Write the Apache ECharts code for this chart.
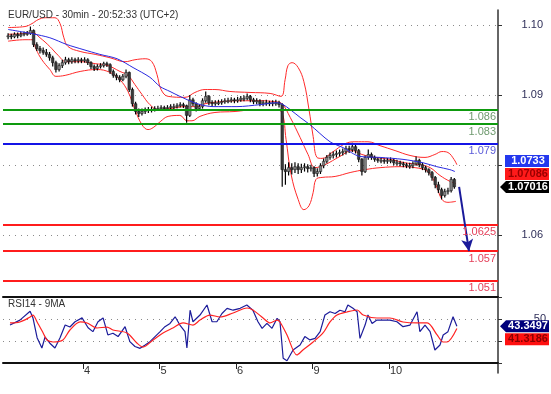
<!DOCTYPE html>
<html><head><meta charset="utf-8">
<script src="https://cdn.jsdelivr.net/npm/echarts@6/dist/echarts.min.js"></script>
<style>html,body{margin:0;padding:0;background:#fff}#c{width:551px;height:394px}</style>
</head><body><div id="c"></div>
<script>
// ---- Hourly bars (bar index 0 = day 3, 00:00) ----
const firstOpen = 1.1009;
const closes = [
1.1011,1.1009,1.1014,1.1011,1.1014,1.1016,1.1016,1.1022,1.0993,1.0985,1.0981,1.0977,1.0973,1.0966,1.0956,1.0942,1.0950,1.0956,1.0962,1.0958,1.0962,1.0960,1.0962,1.0960,
1.0962,1.0956,1.0948,1.0944,1.0948,1.0950,1.0954,1.0952,1.0938,1.0930,1.0926,1.0921,1.0928,1.0936,1.0901,1.0872,1.0856,1.0852,1.0856,1.0858,1.0860,1.0860,1.0862,1.0862,
1.0864,1.0862,1.0864,1.0866,1.0866,1.0868,1.0870,1.0868,1.0848,1.0880,1.0872,1.0862,1.0866,1.0878,1.0887,1.0874,1.0872,1.0874,1.0874,1.0876,1.0878,1.0878,1.0880,1.0878,
1.0880,1.0883,1.0883,1.0887,1.0880,1.0876,1.0878,1.0872,1.0874,1.0874,1.0872,1.0874,1.0874,1.0870,1.0737,1.0733,1.0741,1.0737,1.0743,1.0737,1.0741,1.0743,1.0739,1.0741,
1.0729,1.0733,1.0745,1.0754,1.0762,1.0766,1.0768,1.0770,1.0772,1.0774,1.0780,1.0778,1.0784,1.0776,1.0758,1.0733,1.0762,1.0768,1.0762,1.0758,1.0756,1.0756,1.0754,1.0756,
1.0756,1.0751,1.0751,1.0749,1.0747,1.0745,1.0745,1.0749,1.0756,1.0747,1.0741,1.0737,1.0731,1.0721,1.0706,1.0696,1.0684,1.0692,1.0694,1.0717,1.07016];
const highs = [
1.1016,1.1015,1.1018,1.1018,1.1019,1.1020,1.1021,1.1030,1.1024,1.0998,1.0990,1.0987,1.0984,1.0978,1.0970,1.0960,1.0955,1.0962,1.0968,1.0966,1.0967,1.0966,1.0967,1.0966,
1.0967,1.0965,1.0959,1.0952,1.0953,1.0955,1.0958,1.0958,1.0955,1.0942,1.0934,1.0930,1.0933,1.0942,1.0938,1.0905,1.0876,1.0862,1.0862,1.0864,1.0865,1.0866,1.0867,1.0868,
1.0869,1.0868,1.0869,1.0871,1.0872,1.0873,1.0875,1.0874,1.0870,1.0890,1.0884,1.0875,1.0871,1.0883,1.0897,1.0890,1.0879,1.0879,1.0880,1.0881,1.0883,1.0884,1.0885,1.0884,
1.0886,1.0888,1.0889,1.0893,1.0890,1.0884,1.0883,1.0881,1.0879,1.0880,1.0878,1.0879,1.0880,1.0878,1.0873,1.0748,1.0752,1.0750,1.0752,1.0750,1.0749,1.0750,1.0748,1.0747,
1.0744,1.0740,1.0750,1.0760,1.0767,1.0772,1.0774,1.0776,1.0778,1.0780,1.0786,1.0786,1.0792,1.0788,1.0779,1.0761,1.0766,1.0778,1.0772,1.0766,1.0762,1.0761,1.0760,1.0761,
1.0762,1.0760,1.0757,1.0755,1.0753,1.0751,1.0751,1.0754,1.0764,1.0759,1.0751,1.0745,1.0740,1.0734,1.0724,1.0712,1.0700,1.0698,1.0700,1.0722,1.0720];
const lows = [
1.1004,1.1004,1.1006,1.1006,1.1008,1.1010,1.1011,1.1013,1.0988,1.0980,1.0975,1.0972,1.0968,1.0960,1.0948,1.0936,1.0938,1.0945,1.0952,1.0953,1.0954,1.0955,1.0955,1.0955,
1.0956,1.0951,1.0943,1.0939,1.0940,1.0944,1.0946,1.0947,1.0933,1.0925,1.0920,1.0916,1.0918,1.0924,1.0896,1.0866,1.0850,1.0845,1.0848,1.0851,1.0853,1.0854,1.0856,1.0857,
1.0858,1.0857,1.0858,1.0860,1.0861,1.0862,1.0864,1.0863,1.0833,1.0845,1.0867,1.0856,1.0857,1.0862,1.0874,1.0869,1.0867,1.0868,1.0869,1.0870,1.0872,1.0873,1.0874,1.0873,
1.0874,1.0876,1.0877,1.0879,1.0875,1.0871,1.0871,1.0867,1.0867,1.0868,1.0867,1.0867,1.0868,1.0864,1.0702,1.0706,1.0725,1.0727,1.0730,1.0728,1.0730,1.0733,1.0731,1.0733,
1.0722,1.0723,1.0728,1.0740,1.0750,1.0757,1.0760,1.0762,1.0764,1.0766,1.0768,1.0771,1.0773,1.0770,1.0752,1.0725,1.0730,1.0757,1.0757,1.0753,1.0751,1.0750,1.0749,1.0749,
1.0750,1.0746,1.0745,1.0744,1.0742,1.0740,1.0739,1.0740,1.0745,1.0742,1.0736,1.0731,1.0725,1.0714,1.0699,1.0689,1.0676,1.0680,1.0686,1.0690,1.0698];

// ---- Indicator lines: [bar index, value] ----
const maBlue = [[0.5,1.1024],[8.3,1.1015],[13.6,1.1007],[19.0,1.0993],[24.0,1.0983],[29.3,1.0973],[34.7,1.0964],[39.7,1.0946],[45.0,1.0926],[48.2,1.0907],[51.3,1.0897],[54.4,1.0887],[59.8,1.0872],[64.8,1.0866],[72.3,1.0866],[79.5,1.0870],[84.9,1.0874],[86.8,1.0870],[89.0,1.0860],[92.1,1.0844],[95.2,1.0829],[101.5,1.0794],[105.6,1.0782],[110.9,1.0764],[117.2,1.0762],[124.4,1.0758],[130.7,1.0751],[135.0,1.0743],[139.1,1.0737],[140.7,1.0733]];
const bbUpper = [[0.5,1.1028],[5.8,1.1030],[8.0,1.1036],[9.9,1.1044],[12.1,1.1048],[15.2,1.1048],[16.8,1.1036],[18.0,1.1007],[19.3,1.0989],[23.1,1.0979],[27.8,1.0973],[32.5,1.0966],[37.2,1.0958],[40.3,1.0962],[43.5,1.0964],[45.6,1.0958],[47.2,1.0932],[48.5,1.0901],[50.7,1.0887],[56.0,1.0885],[59.1,1.0895],[62.3,1.0901],[65.4,1.0901],[70.1,1.0897],[76.4,1.0895],[82.7,1.0893],[86.1,1.0887],[87.4,1.0921],[88.3,1.0950],[89.6,1.0956],[91.5,1.0946],[93.3,1.0917],[94.9,1.0860],[96.2,1.0805],[97.4,1.0762],[99.0,1.0760],[102.1,1.0772],[106.2,1.0790],[109.3,1.0794],[113.4,1.0794],[117.2,1.0786],[121.9,1.0776],[126.6,1.0766],[131.3,1.0762],[134.4,1.0768],[136.6,1.0774],[138.5,1.0772],[140.4,1.0758],[141.3,1.0747]];
const bbMiddle = [[0.5,1.1014],[5.8,1.1016],[8.0,1.1018],[10.5,1.1007],[13.6,1.0989],[16.2,1.0971],[18.7,1.0958],[23.1,1.0958],[27.8,1.0954],[31.8,1.0950],[35.6,1.0938],[38.1,1.0930],[40.3,1.0911],[42.5,1.0891],[45.0,1.0870],[47.5,1.0860],[51.3,1.0862],[56.0,1.0866],[59.1,1.0866],[62.3,1.0872],[67.0,1.0876],[73.3,1.0878],[79.5,1.0878],[84.2,1.0876],[86.4,1.0872],[89.0,1.0844],[92.1,1.0803],[94.6,1.0768],[96.8,1.0741],[99.9,1.0747],[104.6,1.0764],[108.4,1.0776],[111.5,1.0768],[115.6,1.0762],[120.3,1.0758],[125.0,1.0751],[129.7,1.0747],[132.9,1.0741],[136.0,1.0725],[139.1,1.0713],[141.0,1.07086]];
const bbLower = [[0.5,1.1000],[5.8,1.1003],[8.0,1.1003],[9.3,1.0983],[11.1,1.0962],[13.6,1.0942],[15.5,1.0928],[18.4,1.0930],[23.1,1.0938],[28.4,1.0942],[32.5,1.0936],[35.6,1.0921],[38.1,1.0897],[40.3,1.0860],[42.5,1.0829],[44.4,1.0819],[46.0,1.0823],[48.2,1.0835],[50.7,1.0846],[54.4,1.0848],[56.6,1.0837],[58.2,1.0837],[60.7,1.0846],[65.4,1.0854],[71.7,1.0856],[78.0,1.0860],[84.2,1.0860],[86.4,1.0854],[87.7,1.0799],[89.3,1.0727],[91.5,1.0676],[93.3,1.0655],[94.9,1.0663],[96.2,1.0690],[97.1,1.0717],[99.0,1.0721],[103.1,1.0723],[107.8,1.0731],[112.5,1.0737],[117.2,1.0741],[123.5,1.0743],[128.2,1.0741],[132.2,1.0733],[134.7,1.0706],[136.6,1.0676],[138.5,1.0670],[141.0,1.0672]];
const rsi = [[1.1,44.5],[4.2,49],[7.4,57],[8.3,51],[9.6,33],[11.1,23.6],[12.1,33.6],[13.6,28],[15.2,23.6],[16.8,33],[18.4,44.5],[19.9,42.7],[21.5,47.5],[23.7,51],[25.6,42],[27.1,38.5],[28.7,47.5],[30.3,51],[31.8,35.5],[33.4,37],[35.0,34],[37.2,43],[38.7,29.4],[40.3,25],[41.9,23.3],[43.5,26.4],[45.0,29.4],[46.6,34],[48.2,38.5],[49.7,43],[51.3,46],[52.9,52],[54.4,44.5],[56.0,38.5],[56.6,23.6],[57.6,58],[58.5,47.5],[60.7,53.6],[62.9,62.7],[64.5,47.5],[66.0,47.5],[67.6,55],[69.2,59.7],[71.1,58],[73.3,59.7],[75.4,62.7],[77.3,58],[78.9,47.5],[80.2,41.5],[81.7,46],[83.3,41.5],[84.9,50.6],[85.8,47.5],[86.8,14.3],[88.0,12],[89.9,21.8],[92.1,26.4],[93.6,34],[95.2,31],[96.8,32.4],[98.4,38.5],[99.9,53.6],[101.5,56.6],[103.1,55],[104.6,58],[106.2,56.6],[107.1,62.7],[108.7,59.7],[110.0,56.6],[110.9,32.4],[112.5,44.5],[113.4,53.6],[114.7,46],[116.2,49],[118.1,49],[120.3,49],[122.5,47.5],[124.4,43],[126.6,44.5],[128.8,56.6],[129.7,38.5],[131.3,44.5],[132.9,38.5],[134.4,21.8],[136.0,26.4],[137.0,35.5],[138.5,38.5],[140.1,52],[141.3,43.3497]];
const rsiMa = [[1.1,46.4],[4.2,47.3],[7.4,51.8],[8.3,53.6],[9.6,47.3],[11.5,37.3],[12.7,30.9],[14.6,29.1],[17.7,30.9],[19.9,40],[23.1,47.3],[25.3,46.4],[28.4,41.8],[31.5,42.7],[33.4,40],[37.8,37.3],[40.9,28.2],[42.8,24.5],[46.0,30.9],[49.1,37.3],[52.2,41.8],[55.4,46.4],[58.5,44.5],[60.7,49],[63.8,53.6],[67.0,51.8],[71.1,55.5],[75.5,60],[77.3,58.2],[80.5,50.9],[82.7,46.4],[84.9,49],[85.8,47.3],[88.0,35.5],[91.1,17.3],[93.0,21.8],[96.2,29.1],[99.3,37.3],[101.5,47.3],[103.7,53.6],[106.8,56.4],[110.0,58.2],[111.9,53.6],[116.2,50.9],[120.3,50.9],[124.4,47.3],[128.8,46.4],[132.0,46.4],[135.1,35.5],[137.0,29.1],[138.2,29.1],[141.3,41.3186]];

// ---- Levels, arrow, axes ----
const levels = [1.086, 1.083, 1.079, 1.0625, 1.057, 1.051];
const levelKinds = ['support', 'support', 'pivot', 'target', 'target', 'target'];
const arrowFrom = [142.0, 1.07016];
const arrowTo = [145.1, 1.057];
const dayStarts = [24, 48, 72, 96, 120];
const dayLabels = ['4', '5', '6', '9', '10'];
const priceTickLabels = ['1.06', '', '1.09', '1.10'];
const rsiTickValues = [30, 50];

const FONT = '"Liberation Sans", Arial, sans-serif';
const kindStyle = {
  support: {line: '#0e9a0e', text: '#6f9a6f', width: 2},
  pivot:   {line: '#1414e6', text: '#5a5ad8', width: 2},
  target:  {line: '#ff1c1c', text: '#e4405a', width: 2}
};

const candleData = closes.map((c, i) => [i + 0.5, i === 0 ? firstOpen : closes[i - 1], c, lows[i], highs[i]]);

function renderCandle(params, api) {
  const x = api.value(0), o = api.value(1), c = api.value(2), l = api.value(3), h = api.value(4);
  const pH = api.coord([x, h]), pL = api.coord([x, l]), pO = api.coord([x, o]), pC = api.coord([x, c]);
  const w = 2.6;
  const top = Math.min(pO[1], pC[1]), bot = Math.max(pO[1], pC[1]);
  return {type: 'group', children: [
    {type: 'line', shape: {x1: pH[0], y1: pH[1], x2: pL[0], y2: pL[1]}, style: {stroke: '#000', lineWidth: 1.2}},
    {type: 'rect', shape: {x: pO[0] - w / 2, y: top, width: w, height: Math.max(bot - top, 1)},
     style: {fill: c >= o ? '#858585' : '#3a3a3a', stroke: '#111', lineWidth: 0.5}}
  ]};
}

const XMIN = -1.1, XMAX = 154.2;
const dotted = {type: [1, 5], color: '#8a8a8a', width: 1};

const option = {
  animation: false,
  backgroundColor: '#ffffff',
  title: [
    {text: 'EUR/USD - 30min - 20:52:33 (UTC+2)', left: 8, top: 10, padding: 0, textStyle: {fontSize: 10, fontWeight: 'normal', color: '#333', fontFamily: FONT}},
    {text: 'RSI14 - 9MA', left: 8, top: 299, padding: 0, textStyle: {fontSize: 10, fontWeight: 'normal', color: '#333', fontFamily: FONT}}
  ],
  grid: [
    {left: 3, right: 53, top: 7, height: 293},
    {left: 3, right: 53, top: 25, height: 210},
    {left: 3, right: 53, top: 297, height: 66},
    {left: 3, right: 53, top: 10, bottom: 21}
  ],
  xAxis: [
    {type: 'value', gridIndex: 0, min: XMIN, max: XMAX, show: false},
    {type: 'value', gridIndex: 1, min: 0, max: 1, show: false},
    {type: 'value', gridIndex: 2, min: XMIN, max: XMAX, position: 'bottom',
     axisLine: {show: true, onZero: false, lineStyle: {color: '#111', width: 2}},
     axisTick: {show: true, customValues: dayStarts, length: 6, lineStyle: {color: '#222'}},
     axisLabel: {customValues: dayStarts, formatter: v => dayLabels[dayStarts.indexOf(v)], align: 'left', padding: [0, 0, 0, 1], margin: 2, fontSize: 11, color: '#333', fontFamily: FONT},
     splitLine: {show: false}},
    {type: 'value', gridIndex: 2, min: XMIN, max: XMAX, position: 'top',
     axisLine: {show: true, onZero: false, lineStyle: {color: '#111', width: 2}},
     axisTick: {show: false}, axisLabel: {show: false}, splitLine: {show: false}},
    {type: 'value', gridIndex: 3, min: 0, max: 1, show: false}
  ],
  yAxis: [
    {type: 'value', gridIndex: 0, min: 1.047, max: 1.107, show: false},
    {type: 'value', gridIndex: 1, min: 0, max: 3, interval: 1, position: 'right',
     axisLine: {show: false, onZero: false}, axisTick: {show: true, length: 4, lineStyle: {color: '#333'}},
     axisLabel: {formatter: v => priceTickLabels[Math.round(v)], align: 'right', margin: 45, fontSize: 11, color: '#2e2e58', fontFamily: FONT},
     splitLine: {show: true, lineStyle: dotted}},
    {type: 'value', gridIndex: 2, min: 10, max: 70, interval: 20, position: 'right',
     axisLine: {show: false, onZero: false}, axisTick: {show: true, length: 4, lineStyle: {color: '#333'}},
     axisLabel: {formatter: v => rsiTickValues.includes(v) ? String(v) : '', align: 'right', margin: 48, fontSize: 11, color: '#2e2e58', fontFamily: FONT},
     splitLine: {show: true, lineStyle: dotted}},
    {type: 'value', gridIndex: 3, min: 0, max: 1, position: 'right',
     axisLine: {show: true, onZero: false, lineStyle: {color: '#333', width: 1.5}}, axisTick: {show: false}, axisLabel: {show: false}, splitLine: {show: false}}
  ],
  series: [
    {type: 'line', name: 'BB upper', xAxisIndex: 0, yAxisIndex: 0, data: bbUpper, smooth: 0.4, showSymbol: false, lineStyle: {color: '#ff2a2a', width: 1}, z: 2},
    {type: 'line', name: 'BB lower', xAxisIndex: 0, yAxisIndex: 0, data: bbLower, smooth: 0.4, showSymbol: false, lineStyle: {color: '#ff2a2a', width: 1}, z: 2},
    {type: 'line', name: 'BB middle', xAxisIndex: 0, yAxisIndex: 0, data: bbMiddle, smooth: 0.4, showSymbol: false, lineStyle: {color: '#ff2a2a', width: 1}, z: 2},
    {type: 'custom', name: 'EUR/USD', xAxisIndex: 0, yAxisIndex: 0, renderItem: renderCandle, encode: {x: 0, y: [1, 2, 3, 4]}, data: candleData, z: 3},
    {type: 'line', name: 'MA', xAxisIndex: 0, yAxisIndex: 0, data: maBlue, smooth: 0.3, showSymbol: false, lineStyle: {color: '#2a2ae0', width: 1}, z: 4,
     markLine: {silent: true, symbol: 'none', animation: false, precision: 5,
       data: levels.map((v, i) => {
         const s = kindStyle[levelKinds[i]];
         return {yAxis: v, lineStyle: {color: s.line, width: s.width, type: 'solid'},
           label: {show: true, position: 'insideEndBottom', formatter: String(v), color: s.text, fontSize: 11, fontFamily: FONT, distance: [2, 2]}};
       })}},
    {type: 'line', name: 'arrow', xAxisIndex: 0, yAxisIndex: 0, data: [], z: 6,
     markLine: {silent: true, animation: false, precision: 5, symbol: ['none', 'arrow'], symbolSize: [9, 12],
       lineStyle: {color: '#1a1a9a', width: 2, type: 'solid'}, label: {show: false},
       data: [[{coord: arrowFrom}, {coord: arrowTo}]]}},
    {type: 'line', name: 'RSI14', xAxisIndex: 2, yAxisIndex: 2, data: rsi, showSymbol: false, lineStyle: {color: '#1c1c9a', width: 1.2}, z: 3},
    {type: 'line', name: '9MA', xAxisIndex: 2, yAxisIndex: 2, data: rsiMa, smooth: 0.3, showSymbol: false, lineStyle: {color: '#ff2222', width: 1.2}, z: 4}
  ]
};

const chart = echarts.init(document.getElementById('c'), null, {renderer: 'canvas'});
chart.setOption(option);

// value tags on the right scale, stacked away from the primary (arrow) tag
const lastClose = closes[closes.length - 1];
const lastMid = bbMiddle[bbMiddle.length - 1][1];
const lastMa = maBlue[maBlue.length - 1][1];
const lastRsi = rsi[rsi.length - 1][1];
const lastRsiMa = rsiMa[rsiMa.length - 1][1];
const GAP = 13;
const yClose = chart.convertToPixel({yAxisIndex: 0}, lastClose);
const yMid = Math.min(chart.convertToPixel({yAxisIndex: 0}, lastMid), yClose - GAP);
const yMa = Math.min(chart.convertToPixel({yAxisIndex: 0}, lastMa), yMid - GAP);
const yRsi = chart.convertToPixel({yAxisIndex: 2}, lastRsi);
const yRsiMa = Math.max(chart.convertToPixel({yAxisIndex: 2}, lastRsiMa), yRsi + GAP);

function tag(y, text, bg, fg, arrow) {
  const x0 = 506, x1 = 549, h = 12;
  const box = arrow
    ? {type: 'polygon', shape: {points: [[500, y], [x0, y - h / 2], [x1, y - h / 2], [x1, y + h / 2], [x0, y + h / 2]]}, style: {fill: bg}, z: 100}
    : {type: 'rect', shape: {x: x0 - 1, y: y - h / 2, width: x1 - x0 + 1, height: h}, style: {fill: bg}, z: 100};
  return [box, {type: 'text', x: (x0 + x1) / 2 + 0.5, y: y, z: 101,
    style: {text: text, fill: fg, font: 'bold 11px ' + FONT, align: 'center', verticalAlign: 'middle', textAlign: 'center', textVerticalAlign: 'middle'}}];
}
chart.setOption({graphic: [].concat(
  tag(yMa, String(lastMa), '#2438ee', '#ffffff', false),
  tag(yMid, String(lastMid), '#ff1a1a', '#9a0000', false),
  tag(yClose, String(lastClose), '#000000', '#ffffff', true),
  tag(yRsi, String(lastRsi), '#00007a', '#ffffff', true),
  tag(yRsiMa, String(lastRsiMa), '#ff1010', '#8a0000', false)
)});
</script>
</body></html>
